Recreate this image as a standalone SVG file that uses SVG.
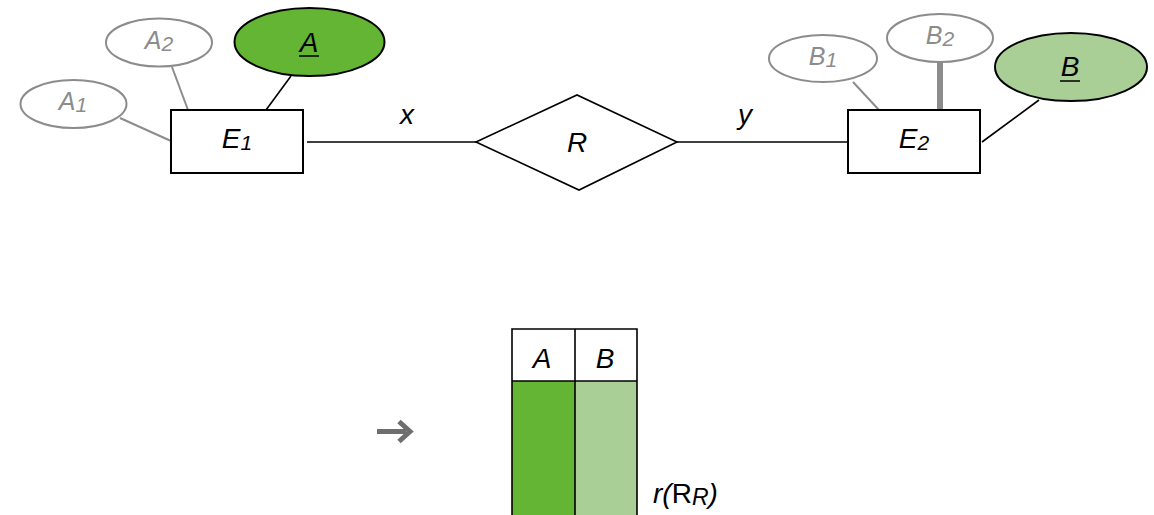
<svg xmlns="http://www.w3.org/2000/svg" width="1154" height="515" viewBox="0 0 1154 515">
  <style>
    text { font-family: "Liberation Sans", Arial, sans-serif; font-style: italic; text-anchor: middle; }
    .ent { fill: #fff; stroke: #000; stroke-width: 2; }
    .key { stroke: #000; stroke-width: 2; }
    .attr { fill: #fff; stroke: #8c8c8c; stroke-width: 2; }
    .attrtxt { fill: #8c8c8c; font-size: 25px; }
    .lbl { fill: #000; font-size: 28px; }
    .sub { font-size: 21px; }
    .edge { stroke: #000; stroke-width: 1.6; fill: none; }
    .gedge { stroke: #8c8c8c; stroke-width: 2; fill: none; }
  </style>

  <g id="connectors">
    <line class="gedge" x1="120" y1="118" x2="171" y2="141"/>
    <line class="gedge" x1="172" y1="67" x2="188" y2="110"/>
    <line class="edge" x1="291" y1="76" x2="266" y2="110"/>
    <line class="edge" x1="307" y1="142" x2="476" y2="142"/>
    <line class="edge" x1="677" y1="142" x2="848" y2="142"/>
    <line class="gedge" x1="853" y1="82" x2="879" y2="110"/>
    <line stroke="#8c8c8c" stroke-width="6" x1="940" y1="62" x2="940" y2="110"/>
    <line class="edge" x1="1039" y1="100" x2="982" y2="142"/>
  </g>

  <g id="attr-A1">
    <ellipse class="attr" cx="73.5" cy="104" rx="53" ry="24"/>
    <text class="attrtxt" x="73" y="110">A<tspan class="sub" dy="2">1</tspan></text>
  </g>
  <g id="attr-A2">
    <ellipse class="attr" cx="159" cy="42.5" rx="53" ry="24"/>
    <text class="attrtxt" x="159" y="49">A<tspan class="sub" dy="2">2</tspan></text>
  </g>
  <g id="attr-A">
    <ellipse class="key" fill="#63b533" cx="309.5" cy="42" rx="75" ry="34"/>
    <text class="lbl" x="309" y="52" font-size="27">A</text>
    <line x1="299" y1="56" x2="319" y2="56" stroke="#000" stroke-width="1.5"/>
  </g>

  <g id="entity-E1">
    <rect class="ent" x="171" y="110" width="132" height="63"/>
    <text class="lbl" x="237" y="148">E<tspan class="sub" dy="2">1</tspan></text>
  </g>

  <g id="relationship-R">
    <polygon class="edge" fill="#fff" points="476,142 577,95 677,142 579,190"/>
    <text class="lbl" x="577" y="152">R</text>
  </g>
  <text class="lbl" x="407" y="124" font-size="27">x</text>
  <text class="lbl" x="745" y="124" font-size="27">y</text>

  <g id="entity-E2">
    <rect class="ent" x="848" y="110" width="132" height="63"/>
    <text class="lbl" x="914" y="148">E<tspan class="sub" dy="2">2</tspan></text>
  </g>

  <g id="attr-B1">
    <ellipse class="attr" cx="823" cy="58.5" rx="54" ry="23.5"/>
    <text class="attrtxt" x="823" y="65">B<tspan class="sub" dy="2">1</tspan></text>
  </g>
  <g id="attr-B2">
    <ellipse class="attr" cx="940" cy="38" rx="53" ry="24"/>
    <text class="attrtxt" x="940" y="44">B<tspan class="sub" dy="2">2</tspan></text>
  </g>
  <g id="attr-B">
    <ellipse class="key" fill="#a9cf96" cx="1071" cy="67" rx="76" ry="34"/>
    <text class="lbl" x="1070" y="76" font-size="27">B</text>
    <line x1="1060" y1="81" x2="1080" y2="81" stroke="#000" stroke-width="1.5"/>
  </g>

  <g id="arrow">
    <line x1="377" y1="431.5" x2="406" y2="431.5" stroke="#6e6e6e" stroke-width="5"/>
    <polyline points="399,421.5 410,431.5 399,441.5" fill="none" stroke="#6e6e6e" stroke-width="5"/>
  </g>

  <g id="table-r">
    <rect x="512" y="381" width="63" height="140" fill="#63b533"/>
    <rect x="575" y="381" width="62" height="140" fill="#a9cf96"/>
    <rect x="512" y="329" width="125" height="52" fill="#fff"/>
    <path d="M512,520 V329 H637 V520 M575,329 V520 M512,381 H637" fill="none" stroke="#000" stroke-width="1.6"/>
    <text class="lbl" x="542" y="368">A</text>
    <text class="lbl" x="605" y="368">B</text>
  </g>
  <text class="lbl" x="653" y="503" font-size="29" style="text-anchor: start">r(<tspan font-style="normal">R</tspan><tspan font-size="23" dy="2">R</tspan><tspan dy="-2">)</tspan></text>
</svg>
